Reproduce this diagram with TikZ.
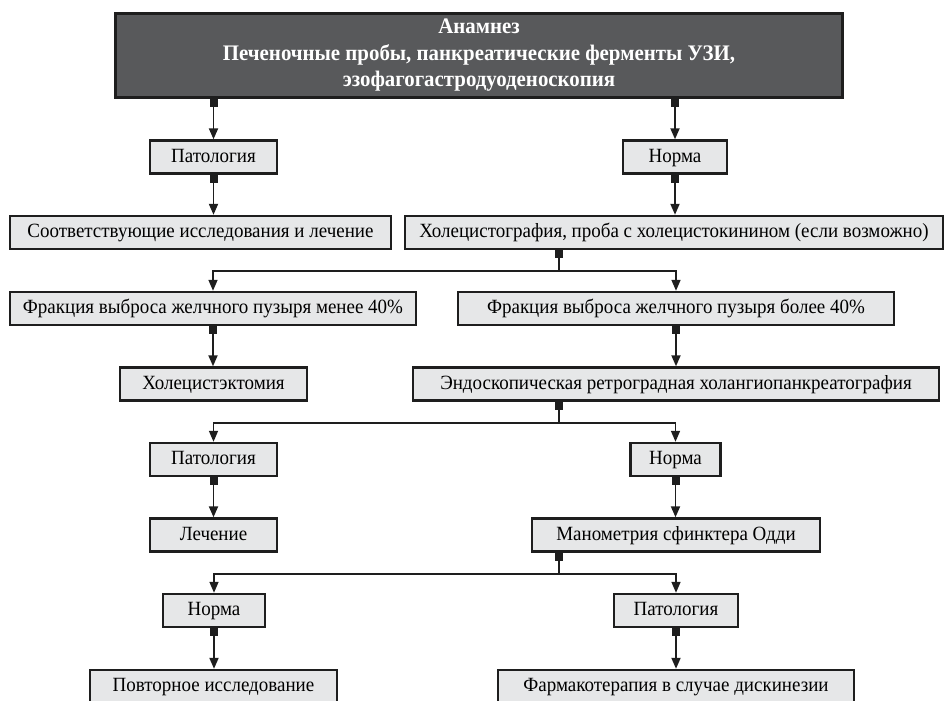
\documentclass[tikz,border=0pt]{standalone}
\usepackage{fontspec}
\setmainfont{Liberation Serif}[FakeStretch=0.94]
\usepackage{tikz}
\usetikzlibrary{arrows.meta, calc}
\usepackage{xcolor}
\definecolor{headgray}{RGB}{88,89,91}
\definecolor{boxgray}{RGB}{230,231,232}
\definecolor{linegray}{RGB}{30,30,30}
\tikzset{
    % Header block
    headbox/.style={rectangle, draw=linegray, line width=3pt, fill=headgray,
                text=white, align=center, minimum width=727pt, minimum height=84pt,
                font=\fontsize{22.2}{26.5}\selectfont\bfseries},
    % Flow boxes
    fbox/.style={rectangle, draw=linegray, line width=2.4pt, fill=boxgray,
                minimum width=#1, minimum height=33pt, inner sep=0pt,
                text height=14.5pt, text depth=4pt,
                font=\fontsize{20.2}{24}\selectfont},
    % Connectors
    farrow/.style={{Square[length=8pt,width=8pt]}-{Triangle[length=11pt,width=9pt]},
                line width=1.9pt, linegray},
    fline/.style={{Square[length=8pt,width=8pt]}-, line width=1.9pt, linegray},
    fsplit/.style={-{Triangle[length=11pt,width=9pt]}, line width=1.6pt, linegray},
}

\begin{document}
\begin{tikzpicture}[x=1pt, y=-1pt]
\useasboundingbox (0,0) rectangle (945,701);
\clip (0,0) rectangle (945,701);

\node[headbox] (anam) at (479,55.5) {Анамнез\\Печеночные пробы, панкреатические ферменты УЗИ,\\эзофагогастродуоденоскопия};

\node[fbox=127pt] (pat1)   at (213.5,157)   {Патология};
\node[fbox=104pt] (norm1)  at (675,157)     {Норма};
\node[fbox=381pt] (study)  at (200.5,232.5) {Соответствующие исследования и лечение};
\node[fbox=538pt] (cholgr) at (674,232.5)   {Холецистография, проба с холецистокинином (если возможно)};
\node[fbox=406pt] (eflow)  at (213,308.5)   {Фракция выброса желчного пузыря менее 40\%};
\node[fbox=436pt] (efhigh) at (676,308.5)   {Фракция выброса желчного пузыря более 40\%};
\node[fbox=187pt] (ectomy) at (213.5,384)   {Холецистэктомия};
\node[fbox=526pt] (ercp)   at (676,384)     {Эндоскопическая ретроградная холангиопанкреатография};
\node[fbox=127pt] (pat2)   at (213.5,459.5) {Патология};
\node[fbox=90pt]  (norm2)  at (675.5,459.5) {Норма};
\node[fbox=127pt] (treat)  at (213.5,535)   {Лечение};
\node[fbox=288pt] (mano)   at (676,535)     {Манометрия сфинктера Одди};
\node[fbox=102pt] (norm3)  at (214,610.5)   {Норма};
\node[fbox=124pt] (pat3)   at (676,610.5)   {Патология};
\node[fbox=247pt] (again)  at (213.5,686.5) {Повторное исследование};
\node[fbox=356pt] (pharm)  at (676,686.5)   {Фармакотерапия в случае дискинезии};

% split points
\coordinate (s1) at (559,271);
\coordinate (s2) at (559,423);
\coordinate (s3) at (559,574);

\draw[farrow] (anam.south -| pat1) -- (pat1);
\draw[farrow] (anam.south -| norm1) -- (norm1);
\draw[farrow] (pat1) -- (pat1 |- study.north);
\draw[farrow] (norm1) -- (norm1 |- cholgr.north);

\draw[fline] (cholgr.south -| s1) -- (s1);
\draw[fsplit] (s1) -| (eflow);
\draw[fsplit] (s1) -| (efhigh);
\draw[farrow] (eflow) -- (eflow |- ectomy.north);
\draw[farrow] (efhigh) -- (efhigh |- ercp.north);

\draw[fline] (ercp.south -| s2) -- (s2);
\draw[fsplit] (s2) -| (pat2);
\draw[fsplit] (s2) -| (norm2);
\draw[farrow] (pat2) -- (pat2 |- treat.north);
\draw[farrow] (norm2) -- (norm2 |- mano.north);

\draw[fline] (mano.south -| s3) -- (s3);
\draw[fsplit] (s3) -| (norm3);
\draw[fsplit] (s3) -| (pat3);
\draw[farrow] (norm3) -- (norm3 |- again.north);
\draw[farrow] (pat3) -- (pat3 |- pharm.north);
\end{tikzpicture}
\end{document}
